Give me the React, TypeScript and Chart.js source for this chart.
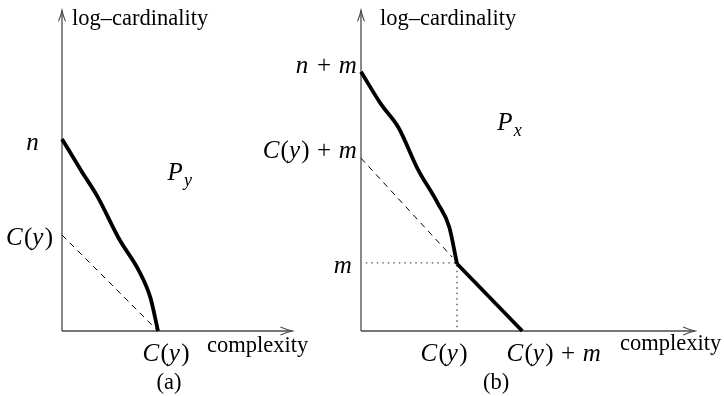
import React, { useEffect, useRef } from "react";
import { Chart, registerables } from "chart.js";

Chart.register(...registerables);

// ---------- panel (a): profile P_y (units: C(y) = 1) ----------
const aCurveX = [0, 0.2, 0.37, 0.6, 0.8, 0.92, 1.0];
const aCurveY = [2.0, 1.67, 1.4, 0.95, 0.63, 0.35, 0];
const aDashX = [0, 1];
const aDashY = [1, 0];
const aXTickValues = [1];
const aXTickLabels = ["C(y)"];
const aYTickValues = [2, 1];
const aYTickLabels = ["n", "C(y)"];
const aRegionLabel = "P_y";
const aRegionAt = [1.1, 1.57];

// ---------- panel (b): profile P_x ----------
const bCurveX = [0, 0.21, 0.39, 0.59, 0.8, 0.92, 1.0];
const bCurveY = [2.7, 2.36, 2.12, 1.69, 1.33, 1.08, 0.7];
const bTailX = [1.0, 1.68];
const bTailY = [0.7, 0];
const bDashX = [0, 0.95];
const bDashY = [1.8, 0.77];
const bDotX = [0.05, 1.0, 1.0];
const bDotY = [0.71, 0.71, 0];
const bXTickValues = [1, 1.68];
const bXTickLabels = ["C(y)", "C(y) + m"];
const bYTickValues = [2.7, 1.8, 0.71];
const bYTickLabels = ["n + m", "C(y) + m", "m"];
const bRegionLabel = "P_x";
const bRegionAt = [1.42, 2.09];

const yAxisTitle = "log\u2013cardinality";
const xAxisTitle = "complexity";
const panelCaptions = ["(a)", "(b)"];

// ---------- styling ----------
const SERIF = '"Liberation Serif", "Times New Roman", serif';
const MATH_SIZE = 25;
const TEXT_SIZE = 22.5;
const AXIS_COLOR = "#4a4a4a";
const PX_PER_UNIT = 96;
const CANVAS_H = 396;

const pts = (xs: number[], ys: number[]) => xs.map((x, i) => ({ x, y: ys[i] }));

type Run = { t: string; italic: boolean; sub: boolean };

function parseMath(s: string): Run[] {
  const runs: Run[] = [];
  for (let i = 0; i < s.length; i++) {
    let c = s[i];
    let sub = false;
    if (c === "_") {
      c = s[++i];
      sub = true;
    }
    runs.push({ t: c, italic: /[A-Za-z]/.test(c), sub });
  }
  return runs;
}

function drawMath(
  ctx: CanvasRenderingContext2D,
  s: string,
  x: number,
  y: number,
  align: "left" | "right" | "center",
  size = MATH_SIZE
) {
  const runs = parseMath(s);
  const fontOf = (r: Run) =>
    `${r.italic ? "italic " : ""}${r.sub ? Math.round(size * 0.7) : size}px ${SERIF}`;
  const widthOf = (r: Run) => {
    if (r.t === " ") return size * 0.3;
    ctx.font = fontOf(r);
    return ctx.measureText(r.t).width + (r.italic && !r.sub ? size * 0.05 : 0);
  };
  const total = runs.reduce((a, r) => a + widthOf(r), 0);
  let cx = align === "left" ? x : align === "right" ? x - total : x - total / 2;
  ctx.textAlign = "left";
  ctx.textBaseline = "alphabetic";
  ctx.fillStyle = "#000";
  for (const r of runs) {
    const w = widthOf(r);
    if (r.t !== " ") {
      ctx.font = fontOf(r);
      ctx.fillText(r.t, cx, y + (r.sub ? size * 0.22 : 0));
    }
    cx += w;
  }
}

function drawText(ctx: CanvasRenderingContext2D, s: string, x: number, y: number, align: CanvasTextAlign) {
  ctx.font = `${TEXT_SIZE}px ${SERIF}`;
  ctx.fillStyle = "#000";
  ctx.textAlign = align;
  ctx.textBaseline = "alphabetic";
  ctx.fillText(s, x, y);
}

interface TickLabel {
  value: number;
  label: string;
  dx: number;
  dy: number;
}

interface DiagramOpts {
  xTicks: TickLabel[];
  yTicks: TickLabel[];
  region: { label: string; at: number[] };
  yTitle: { dx: number; y: number };
  xTitle: { x: number; y: number };
  caption: { text: string; x: number; y: number };
}

const diagramPlugin = {
  id: "diagram",
  beforeDatasetsDraw(chart: any, _args: any, opts: DiagramOpts) {
    const { ctx } = chart;
    const xs = chart.scales.x;
    const ys = chart.scales.y;
    const x0 = xs.getPixelForValue(0);
    const y0 = ys.getPixelForValue(0);
    const xt = xs.getPixelForValue(xs.max);
    const yt = ys.getPixelForValue(ys.max);
    ctx.save();
    ctx.strokeStyle = AXIS_COLOR;
    ctx.lineWidth = 1.3;
    ctx.beginPath();
    ctx.moveTo(x0, y0);
    ctx.lineTo(xt, y0);
    ctx.moveTo(x0, y0);
    ctx.lineTo(x0, yt);
    ctx.stroke();
    // open arrow heads
    ctx.lineWidth = 1.1;
    ctx.beginPath();
    ctx.moveTo(xt - 12, y0 - 4);
    ctx.quadraticCurveTo(xt - 5, y0 - 1, xt, y0);
    ctx.quadraticCurveTo(xt - 5, y0 + 1, xt - 12, y0 + 4);
    ctx.moveTo(x0 - 3.5, yt + 11);
    ctx.quadraticCurveTo(x0 - 1, yt + 5, x0, yt);
    ctx.quadraticCurveTo(x0 + 1, yt + 5, x0 + 3.5, yt + 11);
    ctx.stroke();
    ctx.restore();
  },
  afterDatasetsDraw(chart: any, _args: any, opts: DiagramOpts) {
    const { ctx } = chart;
    const xs = chart.scales.x;
    const ys = chart.scales.y;
    const x0 = xs.getPixelForValue(0);
    const y0 = ys.getPixelForValue(0);
    ctx.save();
    for (const t of opts.yTicks) {
      drawMath(ctx, t.label, x0 + t.dx, ys.getPixelForValue(t.value) + t.dy, "right");
    }
    for (const t of opts.xTicks) {
      drawMath(ctx, t.label, xs.getPixelForValue(t.value) + t.dx, y0 + t.dy, "center");
    }
    drawMath(
      ctx,
      opts.region.label,
      xs.getPixelForValue(opts.region.at[0]),
      ys.getPixelForValue(opts.region.at[1]),
      "left"
    );
    drawText(ctx, yAxisTitle, x0 + opts.yTitle.dx, opts.yTitle.y, "left");
    drawText(ctx, xAxisTitle, opts.xTitle.x, opts.xTitle.y, "left");
    drawText(ctx, opts.caption.text, opts.caption.x, opts.caption.y, "center");
    ctx.restore();
  },
};

interface PanelSpec {
  left: number;
  width: number;
  originX: number; // page x of the origin
  originY: number;
  xMax: number;
  yMax: number;
  datasets: any[];
  diagram: DiagramOpts;
}

const thick = (data: { x: number; y: number }[]) => ({
  data,
  showLine: true,
  borderColor: "#000",
  borderWidth: 3.8,
  pointRadius: 0,
  cubicInterpolationMode: "monotone",
  clip: false,
});
const straightThick = (data: { x: number; y: number }[]) => ({
  data,
  showLine: true,
  borderColor: "#000",
  borderWidth: 3.8,
  pointRadius: 0,
  tension: 0,
  clip: false,
});
const dashed = (data: { x: number; y: number }[]) => ({
  data,
  showLine: true,
  borderColor: "#000",
  borderWidth: 1,
  borderDash: [6, 5],
  pointRadius: 0,
  tension: 0,
  clip: false,
});
const dotted = (data: { x: number; y: number }[]) => ({
  data,
  showLine: true,
  borderColor: "#555",
  borderWidth: 1.4,
  borderDash: [1.5, 4],
  pointRadius: 0,
  tension: 0,
  clip: false,
});

function Panel({ spec }: { spec: PanelSpec }) {
  const ref = useRef<HTMLCanvasElement>(null);
  useEffect(() => {
    const padLeft = spec.originX - spec.left;
    const padRight = spec.width - padLeft - spec.xMax * PX_PER_UNIT;
    const padTop = spec.originY - spec.yMax * PX_PER_UNIT;
    const padBottom = CANVAS_H - spec.originY;
    const chart = new Chart(ref.current!, {
      type: "scatter",
      data: { datasets: spec.datasets },
      options: {
        animation: false,
        responsive: false,
        devicePixelRatio: 1,
        events: [],
        layout: { padding: { left: padLeft, right: padRight, top: padTop, bottom: padBottom } },
        scales: {
          x: { type: "linear", min: 0, max: spec.xMax, display: false },
          y: { type: "linear", min: 0, max: spec.yMax, display: false },
        },
        plugins: {
          legend: { display: false },
          tooltip: { enabled: false },
          diagram: spec.diagram,
        } as any,
      },
      plugins: [diagramPlugin as any],
    });
    return () => chart.destroy();
  }, []);
  return (
    <canvas
      ref={ref}
      width={spec.width}
      height={CANVAS_H}
      style={{ position: "absolute", left: spec.left, top: 0, width: spec.width, height: CANVAS_H }}
    />
  );
}

const panelA: PanelSpec = {
  left: 0,
  width: 320,
  originX: 62,
  originY: 331,
  xMax: 2.4,
  yMax: 3.34,
  datasets: [thick(pts(aCurveX, aCurveY)), dashed(pts(aDashX, aDashY))],
  diagram: {
    yTicks: aYTickValues.map((value, i) => ({
      value,
      label: aYTickLabels[i],
      dx: [-22, -9][i],
      dy: [11, 10][i],
    })),
    xTicks: aXTickValues.map((value, i) => ({ value, label: aXTickLabels[i], dx: 8, dy: 30 })),
    region: { label: aRegionLabel, at: aRegionAt },
    yTitle: { dx: 10, y: 25 },
    xTitle: { x: 207, y: 352 },
    caption: { text: panelCaptions[0], x: 169, y: 389 },
  },
};

const panelB: PanelSpec = {
  left: 240,
  width: 484,
  originX: 361,
  originY: 331,
  xMax: 3.48,
  yMax: 3.34,
  datasets: [
    thick(pts(bCurveX, bCurveY)),
    straightThick(pts(bTailX, bTailY)),
    dashed(pts(bDashX, bDashY)),
    dotted(pts(bDotX, bDotY)),
  ],
  diagram: {
    yTicks: bYTickValues.map((value, i) => ({
      value,
      label: bYTickLabels[i],
      dx: [-3, -3, -8][i],
      dy: [1, 0, 10][i],
    })),
    xTicks: bXTickValues.map((value, i) => ({
      value,
      label: bXTickLabels[i],
      dx: [-13, 32][i],
      dy: 30,
    })),
    region: { label: bRegionLabel, at: bRegionAt },
    yTitle: { dx: 19, y: 25 },
    xTitle: { x: 380, y: 350 },
    caption: { text: panelCaptions[1], x: 256, y: 389 },
  },
};

export default function App() {
  return (
    <div
      style={{
        position: "absolute",
        left: 0,
        top: 0,
        width: 724,
        height: CANVAS_H,
        background: "#fff",
        overflow: "hidden",
      }}
    >
      <Panel spec={panelA} />
      <Panel spec={panelB} />
    </div>
  );
}
